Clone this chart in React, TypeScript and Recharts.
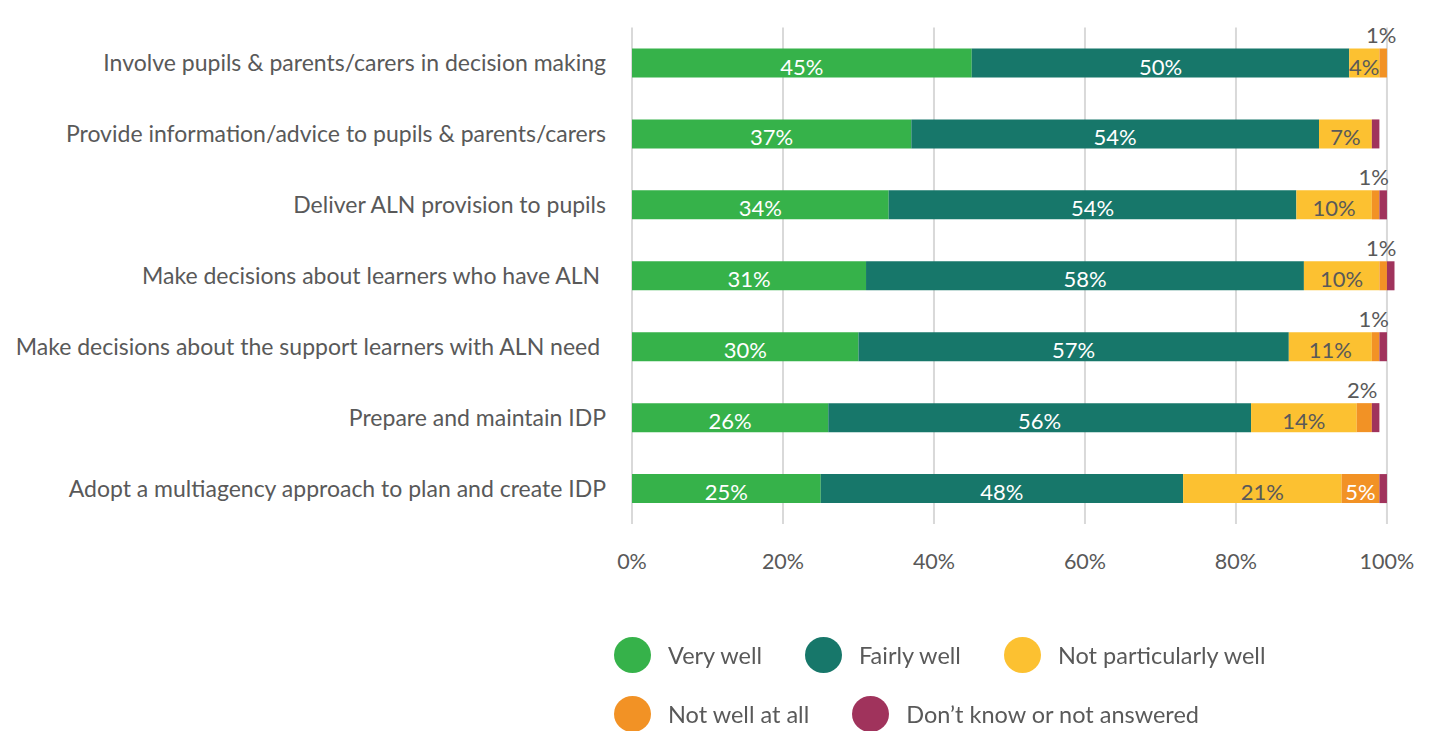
import React from 'react';
import { BarChart, Bar, XAxis, YAxis, CartesianGrid, LabelList, Legend } from 'recharts';

const categories = [
  'Involve pupils & parents/carers in decision making',
  'Provide information/advice to pupils & parents/carers',
  'Deliver ALN provision to pupils',
  'Make decisions about learners who have ALN\u00A0',
  'Make decisions about the support learners with ALN need\u00A0',
  'Prepare and maintain IDP',
  'Adopt a multiagency approach to plan and create IDP',
];
const veryWell = [45, 37, 34, 31, 30, 26, 25];
const fairlyWell = [50, 54, 54, 58, 57, 56, 48];
const notParticularlyWell = [4, 7, 10, 10, 11, 14, 21];
const notWellAtAll = [1, 0, 1, 1, 1, 2, 5];
const dontKnow = [0, 1, 1, 1, 1, 1, 1];
const xTicks = [0, 20, 40, 60, 80, 100];
const X_MAX = 101;

const seriesNames = ['Very well', 'Fairly well', 'Not particularly well', 'Not well at all', 'Don\u2019t know or not answered'];
const seriesColors = ['#36b24a', '#17776a', '#fcc131', '#f29225', '#a0335c'];

const data = categories.map((name, i) => ({
  name,
  veryWell: veryWell[i],
  fairlyWell: fairlyWell[i],
  notParticularlyWell: notParticularlyWell[i],
  notWellAtAll: notWellAtAll[i],
  dontKnow: dontKnow[i],
}));

const FONT = 'Lato, "Noto Sans", sans-serif';
const GRAY = '#595959';

const insideLabel = (color: string) => (props: any) => {
  const { x, y, width, height, value } = props;
  if (!value) return null;
  return (
    <text x={x + width / 2} y={y + height / 2 + 3} fill={color} fontSize={22} fontFamily={FONT}
      textAnchor="middle" dominantBaseline="central">{value}%</text>
  );
};

const orangeLabel = (props: any) => {
  const { x, y, width, height, value } = props;
  if (!value) return null;
  if (value >= 3) {
    return (
      <text x={x + width / 2} y={y + height / 2 + 3} fill="#ffffff" fontSize={22} fontFamily={FONT}
        textAnchor="middle" dominantBaseline="central">{value}%</text>
    );
  }
  return (
    <text x={x + width / 2 - 2} y={y - 14} fill={GRAY} fontSize={22} fontFamily={FONT}
      textAnchor="middle" dominantBaseline="central">{value}%</text>
  );
};

const renderLegend = () => {
  const rows = [[0, 1, 2], [3, 4]];
  return (
    <div style={{ fontFamily: FONT }}>
      {rows.map((row, ri) => (
        <div key={ri} style={{ display: 'flex', alignItems: 'center', height: 36, marginBottom: ri === 0 ? 23 : 0 }}>
          {row.map((si) => (
            <div key={si} style={{ display: 'flex', alignItems: 'center', marginRight: 43 }}>
              <span style={{ width: 37, height: 36, borderRadius: '50%', background: seriesColors[si], display: 'inline-block', flex: 'none' }} />
              <span style={{ marginLeft: 17, fontSize: 23.5, color: GRAY, whiteSpace: 'nowrap' }}>{seriesNames[si]}</span>
            </div>
          ))}
        </div>
      ))}
    </div>
  );
};

const gridGenerator = (props: any) => {
  const { xAxis, offset } = props;
  if (xAxis && typeof xAxis.scale === 'function') {
    return xTicks.map((t) => xAxis.scale(t));
  }
  return xTicks.map((t) => offset.left + (t / X_MAX) * offset.width);
};

export default function App() {
  return (
    <div style={{ position: 'fixed', left: 0, top: 0, width: 1431, height: 731, background: '#fff' }}>
      <BarChart
        layout="vertical"
        width={1431}
        height={731}
        data={data}
        margin={{ top: 27.5, right: 36.5, bottom: 147, left: 0 }}
        barSize={29}
      >
        <CartesianGrid horizontal={false} stroke="#d9d9d9" strokeWidth={2} verticalCoordinatesGenerator={gridGenerator} />
        <XAxis
          type="number"
          domain={[0, X_MAX]}
          ticks={xTicks}
          tickFormatter={(v: number) => `${v}%`}
          axisLine={false}
          tickLine={false}
          tickSize={0}
          tickMargin={30}
          height={60}
          tick={{ fill: GRAY, fontSize: 21.5, fontFamily: FONT }}
          interval={0}
        />
        <YAxis
          type="category"
          dataKey="name"
          width={632}
          axisLine={false}
          tickLine={false}
          tickSize={0}
          tickMargin={26}
          tick={{ fill: GRAY, fontSize: 23, fontFamily: FONT }}
          interval={0}
        />
        <Legend
          layout="horizontal"
          verticalAlign="middle"
          align="center"
          wrapperStyle={{ position: 'absolute', left: 614, top: 637, width: 800, height: 100 }}
          content={renderLegend}
        />
        <Bar dataKey="veryWell" stackId="a" fill={seriesColors[0]} isAnimationActive={false}>
          <LabelList dataKey="veryWell" content={insideLabel('#ffffff')} />
        </Bar>
        <Bar dataKey="fairlyWell" stackId="a" fill={seriesColors[1]} isAnimationActive={false}>
          <LabelList dataKey="fairlyWell" content={insideLabel('#ffffff')} />
        </Bar>
        <Bar dataKey="notParticularlyWell" stackId="a" fill={seriesColors[2]} isAnimationActive={false}>
          <LabelList dataKey="notParticularlyWell" content={insideLabel(GRAY)} />
        </Bar>
        <Bar dataKey="notWellAtAll" stackId="a" fill={seriesColors[3]} isAnimationActive={false}>
          <LabelList dataKey="notWellAtAll" content={orangeLabel} />
        </Bar>
        <Bar dataKey="dontKnow" stackId="a" fill={seriesColors[4]} isAnimationActive={false} />
      </BarChart>
    </div>
  );
}
